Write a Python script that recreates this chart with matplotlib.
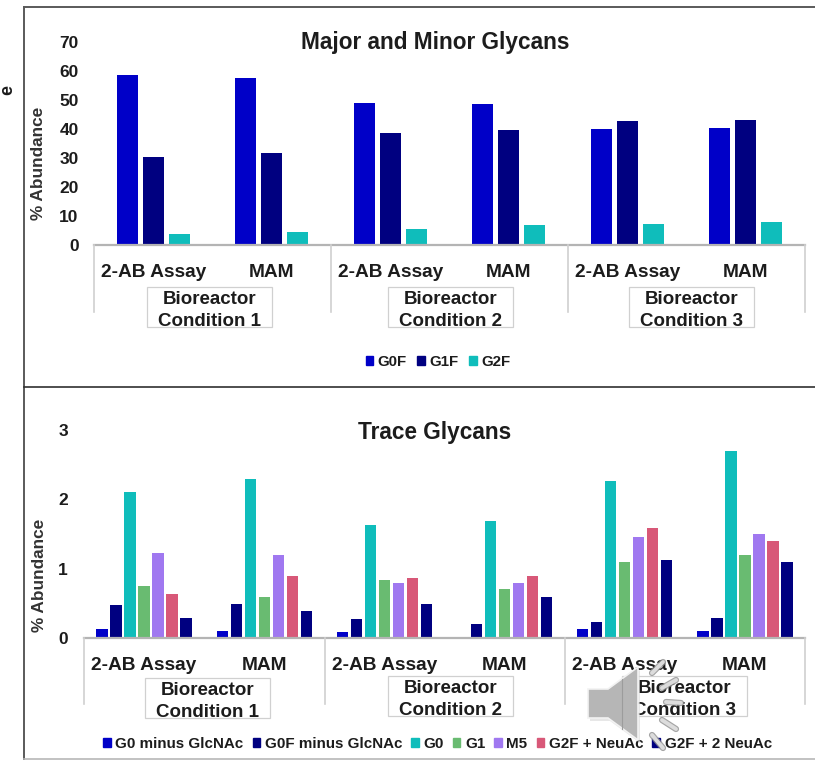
import matplotlib
matplotlib.use("Agg")
import matplotlib.pyplot as plt
from matplotlib.patches import Polygon, Rectangle, Patch
import numpy as np

plt.rcParams['font.family'] = ['Liberation Sans', 'DejaVu Sans']
W, H = 815, 760
TXT = '#1c1c1c'
GREY = '#b4b4b4'

assays = ['2-AB Assay', 'MAM'] * 3
conditions = ['Bioreactor\nCondition 1', 'Bioreactor\nCondition 2', 'Bioreactor\nCondition 3']

major_title = 'Major and Minor Glycans'
G0F = [58.5, 57.5, 48.9, 48.5, 40.1, 40.3]
G1F = [30.5, 31.8, 38.7, 39.7, 42.8, 43.2]
G2F = [3.7, 4.5, 5.6, 6.8, 7.2, 7.9]
major_names = ['G0F', 'G1F', 'G2F']
major_colors = ['#0000C8', '#000080', '#0FBDBB']

trace_title = 'Trace Glycans'
G0_minus = [0.13, 0.10, 0.09, 0.0, 0.13, 0.10]
G0F_minus = [0.48, 0.49, 0.28, 0.20, 0.23, 0.29]
G0 = [2.10, 2.29, 1.63, 1.69, 2.27, 2.69]
G1 = [0.75, 0.59, 0.83, 0.70, 1.10, 1.20]
M5 = [1.22, 1.20, 0.80, 0.80, 1.46, 1.50]
G2F_NeuAc = [0.63, 0.90, 0.87, 0.90, 1.58, 1.40]
G2F_2NeuAc = [0.29, 0.39, 0.49, 0.59, 1.12, 1.10]
trace_names = ['G0 minus GlcNAc', 'G0F minus GlcNAc', 'G0', 'G1', 'M5', 'G2F + NeuAc', 'G2F + 2 NeuAc']
trace_colors = ['#0000C8', '#000080', '#0FBDBB', '#69BB71', '#A078F0', '#D85878', '#000080']


def axes_px(fig, x0, x1, ytop, ybot):
    return fig.add_axes([x0 / W, 1 - ybot / H, (x1 - x0) / W, (ybot - ytop) / H])


def draw_chart(ax, series, names, colors, width, step, yticks, ylim, pad):
    x = np.arange(6)
    n = len(series)
    for i, (vals, col, name) in enumerate(zip(series, colors, names)):
        ax.bar(x + (i - (n - 1) / 2) * step, vals, width, color=col, label=name, linewidth=0)
    ax.set_xlim(-0.5, 5.5)
    ax.set_ylim(*ylim)
    ax.set_yticks(yticks)
    ax.set_xticks(x, assays)
    ax.tick_params(axis='y', length=0, pad=pad, labelsize=12.5, labelcolor=TXT)
    ax.tick_params(axis='x', length=0, pad=14, labelsize=13.8, labelcolor=TXT)
    for lab in ax.get_xticklabels() + ax.get_yticklabels():
        lab.set_fontweight('bold')
    for s in ['top', 'right', 'left']:
        ax.spines[s].set_visible(False)
    ax.spines['bottom'].set_color(GREY)
    ax.spines['bottom'].set_linewidth(1.6)
    ax.patch.set_alpha(0)


fig = plt.figure(figsize=(W / 100, H / 100), dpi=100, facecolor='white')

ax1 = axes_px(fig, 94, 805, 42, 245)
draw_chart(ax1, [G0F, G1F, G2F], major_names, major_colors, 0.18, 0.22,
           range(0, 71, 10), (0, 70), 11)
ax2 = axes_px(fig, 84, 805, 430, 638)
draw_chart(ax2, [G0_minus, G0F_minus, G0, G1, M5, G2F_NeuAc, G2F_2NeuAc], trace_names, trace_colors,
           0.095, 0.1165, [0, 1, 2, 3], (0, 3), 11.5)

ov = fig.add_axes([0, 0, 1, 1], zorder=10)
ov.set_xlim(0, W)
ov.set_ylim(H, 0)
ov.axis('off')
ov.patch.set_alpha(0)

ov.plot([24, 24], [7, 760], color='#5a5a5a', lw=1.4)
ov.plot([24, 815], [7, 7], color='#5a5a5a', lw=1.4)
ov.plot([24, 815], [387, 387], color='#303030', lw=1.2)
ov.plot([24, 815], [759, 759], color='#b8b8b8', lw=1.2)

ov.text(8, 90, 'e', rotation=90, fontsize=13, fontweight='bold', color=TXT, ha='center', va='center')

ov.text(435, 42, major_title, fontsize=16.3, fontweight='bold', color=TXT, ha='center', va='center')
ov.text(435, 432, trace_title, fontsize=16.3, fontweight='bold', color=TXT, ha='center', va='center')
ov.text(38.5, 163, '% Abundance', rotation=90, fontsize=12.4, fontweight='bold', color='#333333', ha='center', va='center')
ov.text(40, 575, '% Abundance', rotation=90, fontsize=12.4, fontweight='bold', color='#333333', ha='center', va='center')

for x in [94, 331, 568, 805]:
    ov.plot([x, x], [245, 312], color='#d0d0d0', lw=1.2)
for x in [84, 325, 565, 805]:
    ov.plot([x, x], [638, 704], color='#d0d0d0', lw=1.2)

boxes_top = [(147, 287, 125, 40), (388, 287, 125, 40), (629, 287, 125, 40)]
boxes_bot = [(145, 678, 125, 40), (388, 676, 125, 40), (622, 676, 125, 40)]
for boxes in (boxes_top, boxes_bot):
    for (x, y, w, h), c in zip(boxes, conditions):
        ov.add_patch(Rectangle((x, y), w, h, fc='white', ec='#d0d0d0', lw=0.9))
        ov.text(x + w / 2, y + h / 2 + 3.5, c, fontsize=13.5, fontweight='bold', color=TXT,
                ha='center', va='center', linespacing=1.44)


def legend(names, colors, cx, cy, size, spacing):
    handles = [Patch(color=c, label=n) for c, n in zip(colors, names)]
    fig.legend(handles=handles, loc='center', bbox_to_anchor=(cx / W, 1 - cy / H), ncol=len(names),
               frameon=False, prop={'size': size, 'weight': 'bold'}, labelcolor=TXT,
               handlelength=0.5, handleheight=0.5, handletextpad=0.3, columnspacing=spacing, borderpad=0)


legend(major_names, major_colors, 438, 362, 10.8, 0.72)
legend(trace_names, trace_colors, 437.5, 744, 10.9, 0.6)

sp = fig.add_axes([0, 0, 1, 1], zorder=20)
sp.set_xlim(0, W)
sp.set_ylim(H, 0)
sp.axis('off')
sp.patch.set_alpha(0)
pts = np.array([[588, 689], [608, 689], [638, 667], [638, 740], [608, 718], [588, 718]], float)
sp.add_patch(Polygon(pts + [2, 3], closed=True, fc='#d8d8d8', ec='none', alpha=.6))
sp.add_patch(Polygon(pts, closed=True, fc='#b6b6b6', ec='#f2f2f2', lw=1.2))
sp.plot([622, 622], [679, 729], color='#9c9c9c', lw=.8)
for (a, b, c, d) in [(652, 673, 663, 662), (662, 688, 676, 680), (666, 702, 681, 703),
                     (662, 720, 676, 729), (652, 735, 663, 748)]:
    sp.plot([a, c], [b, d], color='#8f8f8f', lw=4.5, solid_capstyle='round', alpha=.8)
    sp.plot([a, c], [b, d], color='#dcdcdc', lw=2.8, solid_capstyle='round')

fig.savefig('out.png', dpi=100)
